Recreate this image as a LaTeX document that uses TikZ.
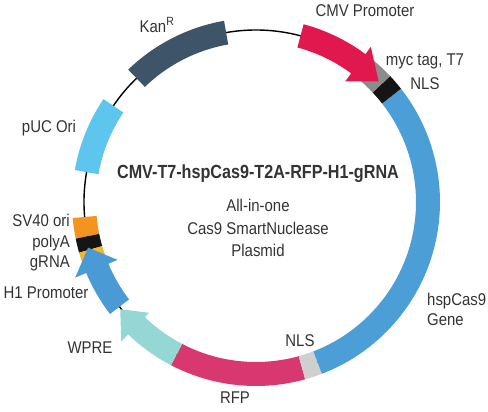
\documentclass[tikz,border=0pt]{standalone}
\usepackage{fontspec}
\setmainfont[FakeStretch=0.88]{Liberation Sans}
\newfontfamily\titlefont[FakeStretch=0.85]{Liberation Sans}
\usepackage{tikz}
\definecolor{kan}{HTML}{3E5569}
\definecolor{puc}{HTML}{5EC5EF}
\definecolor{sv40}{HTML}{F39320}
\definecolor{grna}{HTML}{F6B62B}
\definecolor{blk}{HTML}{151515}
\definecolor{hone}{HTML}{4A9AD6}
\definecolor{wpre}{HTML}{95D7D4}
\definecolor{rfp}{HTML}{D8386F}
\definecolor{nlsgray}{HTML}{CFCFCF}
\definecolor{cas}{HTML}{4C9FD6}
\definecolor{myc}{HTML}{8C8C8C}
\definecolor{cmv}{HTML}{E0184E}
\definecolor{txt}{HTML}{333333}

\begin{document}
\begin{tikzpicture}[x=1pt, y=1pt, font=\fontsize{17}{22}\selectfont,
    lbl/.style={text=txt, inner sep=0pt, align=center}]
    \useasboundingbox (-256,-210) rectangle (232,202);
    % backbone
    \draw[line width=1.4] (0,0) circle[radius=172];
    % features on the ring
    \foreach \a/\b/\c in {100/134/kan, 146/170/puc, 185/191.5/sv40, 191.5/196/blk, 196/200/grna,
        -117.5/-74.5/rfp, -74.5/-69/nlsgray, -69/38/cas, 38/43.2/blk, 43.2/50/myc}
      \fill[\c] (\a:184) arc[start angle=\a, end angle=\b, radius=184]
        -- (\b:160) arc[start angle=\b, end angle=\a, radius=160] -- cycle;
    % promoters and WPRE as arrows
    \fill[cmv] (75:184) arc[start angle=75, end angle=53.5, radius=184]
      -- (53.5:193) -- (44.5:172) -- (53.5:150) -- (53.5:160)
      arc[start angle=53.5, end angle=75, radius=160] -- cycle;
    \fill[hone] (217.5:184) arc[start angle=217.5, end angle=202.7, radius=184]
      -- (202.7:196) -- (195.2:174) -- (202.7:150) -- (202.7:160)
      arc[start angle=202.7, end angle=217.5, radius=160] -- cycle;
    \fill[wpre] (242.5:184) arc[start angle=242.5, end angle=226, radius=184]
      -- (226:194) -- (218.3:173) -- (226:154) -- (226:160)
      arc[start angle=226, end angle=242.5, radius=160] -- cycle;
    % labels
    \node[lbl] (cmvl) at (109,191) {CMV Promoter};
    \node[lbl, font=\fontsize{17}{24}\selectfont] (mycl) at (169,130) {myc tag, T7\\NLS};
    \node[lbl] (kanl) at (-99,177) {Kan\textsuperscript{R}};
    \node[lbl] (pucl) at (-207,74) {pUC Ori};
    \node[lbl, align=right, anchor=east, font=\fontsize{17}{20.5}\selectfont] (sv40l) at (-186,-41) {SV40 ori\\polyA\\gRNA};
    \node[lbl] (hl) at (-210,-91) {H1 Promoter};
    \node[lbl] (wprel) at (-166,-146) {WPRE};
    \node[lbl] (rfpl) at (-21,-196) {RFP};
    \node[lbl] (nlsl) at (44,-139) {NLS};
    \node[lbl, align=left, anchor=west, font=\fontsize{17}{20}\selectfont] (casl) at (171,-107) {hspCas9\\Gene};
    \node[lbl, font=\titlefont\bfseries\fontsize{19}{22}\selectfont] (title) at (2,28) {CMV-T7-hspCas9-T2A-RFP-H1-gRNA};
    \node[lbl, font=\fontsize{17}{22.5}\selectfont] (sub) at (2,-26) {All-in-one\\Cas9 SmartNuclease\\Plasmid};
\end{tikzpicture}
\end{document}
